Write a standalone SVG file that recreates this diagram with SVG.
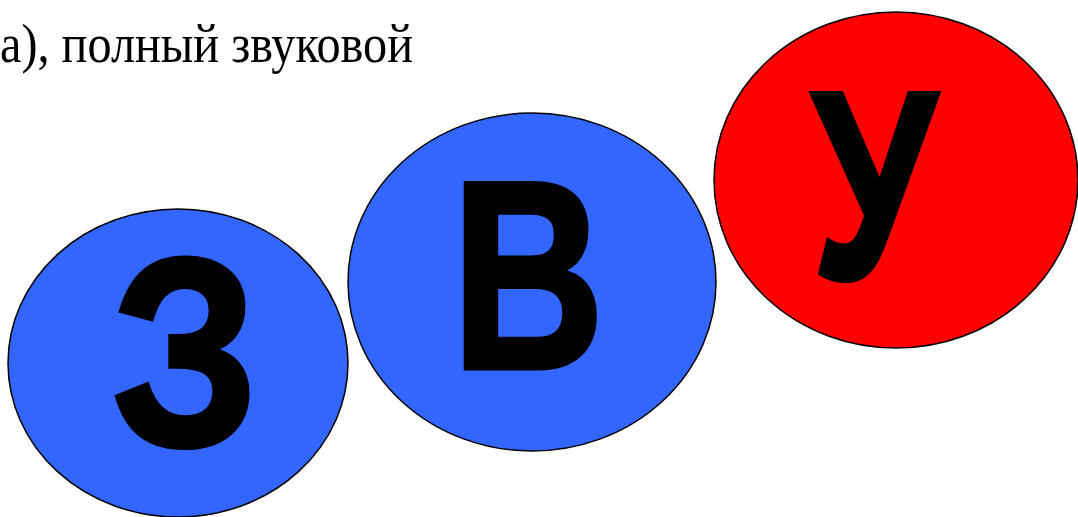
<svg xmlns="http://www.w3.org/2000/svg" width="1078" height="517" viewBox="0 0 1078 517">
<style>
.blue{fill:#3366FF;stroke:#000;stroke-width:1.5}
.red{fill:#FF0000;stroke:#000;stroke-width:1.5}
.big{font-family:"Liberation Sans",Arial,sans-serif;font-weight:bold;font-size:268px;fill:#000;stroke:#000;stroke-width:5;stroke-linejoin:miter;text-anchor:middle}
.line{font-family:"Liberation Serif","Times New Roman",serif;font-size:54px;fill:#000}
</style>
<rect width="1078" height="517" fill="#fff"/>
<text class="line" x="0" y="62" textLength="413" lengthAdjust="spacingAndGlyphs">а), полный звуковой</text>
<g id="node-z">
<ellipse class="blue" cx="178" cy="363" rx="170" ry="154"/>
<text class="big" transform="translate(185,445) scale(0.87,1)" x="0" y="0">З</text>
</g>
<g id="node-v">
<ellipse class="blue" cx="532" cy="282" rx="184" ry="169"/>
<text class="big" transform="translate(528,368) scale(0.79,1)" x="0" y="0">В</text>
</g>
<g id="node-u">
<ellipse class="red" cx="896" cy="180" rx="182" ry="168"/>
<text class="big" transform="translate(874,278) scale(0.75,1)" x="0" y="0">У</text>
</g>
<g id="connectors"/>
</svg>
